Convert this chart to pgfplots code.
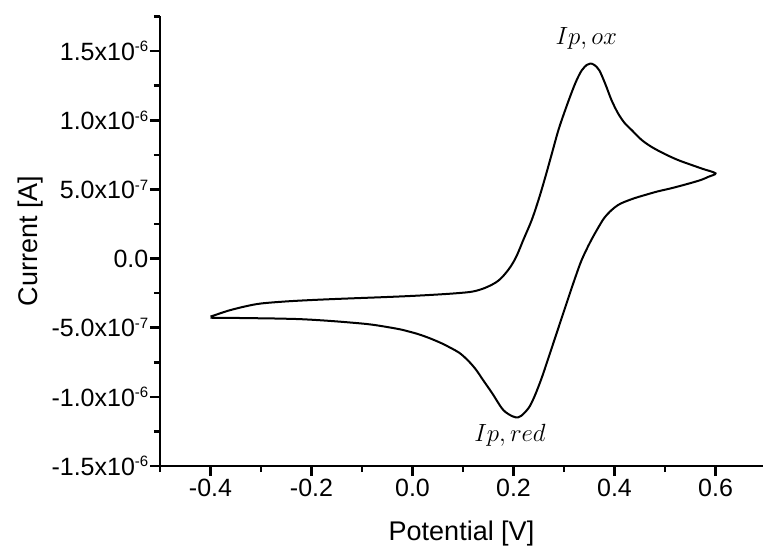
\documentclass[border=0pt]{standalone}
\usepackage{pgfplots}
\pgfplotsset{compat=1.18}
\usepackage{fontspec}
\setmainfont{Liberation Sans}

% tick label with a raised exponent, e.g. 1.5x10^-6
\newcommand{\sci}[2]{#1x10\raisebox{8.5pt}{\fontsize{15}{15}\selectfont #2}}

\begin{document}
\begin{tikzpicture}
\begin{axis}[
  scale only axis,
  width=603pt, height=450.3pt,
  xmin=-0.5, xmax=0.694,
  ymin=-1.5e-6, ymax=1.756e-6,
  scaled x ticks=false, scaled y ticks=false,
  axis x line=bottom, axis y line=left,
  axis line style={-, line width=2.8pt},
  tick align=outside,
  major tick length=10pt, minor tick length=6pt,
  every tick/.style={black, line width=2.5pt},
  xtick={-0.4,-0.2,0.0,0.2,0.4,0.6},
  xticklabels={-0.4,-0.2,0.0,0.2,0.4,0.6},
  minor xtick={-0.5,-0.3,-0.1,0.1,0.3,0.5},
  ytick={-1.5e-6,-1.0e-6,-5e-7,0,5e-7,1.0e-6,1.5e-6},
  yticklabels={\sci{-1.5}{-6},\sci{-1.0}{-6},\sci{-5.0}{-7},0.0,\sci{5.0}{-7},\sci{1.0}{-6},\sci{1.5}{-6}},
  minor ytick={-1.25e-6,-0.75e-6,-0.25e-6,0.25e-6,0.75e-6,1.25e-6,1.75e-6},
  ticklabel style={font=\fontsize{25}{30}\selectfont},
  yticklabel style={inner sep=1.5pt},
  xticklabel style={inner sep=3pt},
  label style={font=\fontsize{27}{32}\selectfont},
  xlabel={Potential [V]},
  ylabel={Current [A]},
  xlabel style={yshift=-18pt},
  ylabel style={yshift=3pt},
  clip=false,
]
% cyclic voltammogram: anodic sweep -0.4 -> 0.6 V, then cathodic sweep back
\addplot[black, line width=2pt, smooth, tension=0.55] coordinates {
  (-0.400,-0.420e-6) (-0.380,-0.395e-6) (-0.360,-0.372e-6) (-0.330,-0.345e-6)
  (-0.300,-0.325e-6) (-0.250,-0.310e-6) (-0.200,-0.300e-6) (-0.150,-0.292e-6)
  (-0.100,-0.285e-6) (-0.050,-0.278e-6) (0.000,-0.270e-6) (0.050,-0.260e-6)
  (0.090,-0.250e-6) (0.120,-0.238e-6) (0.145,-0.210e-6) (0.170,-0.160e-6)
  (0.190,-0.080e-6) (0.205,0.010e-6) (0.220,0.140e-6) (0.236,0.278e-6)
  (0.250,0.430e-6) (0.263,0.590e-6) (0.276,0.760e-6) (0.289,0.930e-6)
  (0.302,1.070e-6) (0.315,1.200e-6) (0.325,1.290e-6) (0.335,1.360e-6)
  (0.345,1.400e-6) (0.352,1.410e-6) (0.360,1.400e-6) (0.370,1.360e-6)
  (0.382,1.260e-6) (0.394,1.146e-6) (0.407,1.050e-6) (0.420,0.980e-6)
  (0.434,0.929e-6) (0.453,0.860e-6) (0.473,0.808e-6) (0.500,0.755e-6)
  (0.526,0.712e-6) (0.550,0.680e-6) (0.575,0.648e-6) (0.600,0.616e-6)
  (0.585,0.590e-6) (0.571,0.568e-6) (0.540,0.535e-6) (0.512,0.508e-6)
  (0.485,0.485e-6) (0.460,0.459e-6) (0.440,0.437e-6) (0.420,0.410e-6)
  (0.407,0.387e-6) (0.394,0.350e-6) (0.380,0.295e-6) (0.368,0.225e-6)
  (0.352,0.120e-6) (0.335,-0.010e-6) (0.322,-0.140e-6) (0.309,-0.280e-6)
  (0.299,-0.390e-6) (0.289,-0.500e-6) (0.279,-0.610e-6) (0.269,-0.720e-6)
  (0.259,-0.830e-6) (0.250,-0.920e-6) (0.240,-1.010e-6) (0.230,-1.080e-6)
  (0.215,-1.138e-6) (0.204,-1.148e-6) (0.190,-1.125e-6) (0.177,-1.083e-6)
  (0.158,-0.975e-6) (0.140,-0.880e-6) (0.125,-0.800e-6) (0.108,-0.730e-6)
  (0.092,-0.680e-6) (0.075,-0.645e-6) (0.059,-0.615e-6) (0.040,-0.585e-6)
  (0.026,-0.565e-6) (0.010,-0.545e-6) (-0.010,-0.525e-6) (-0.030,-0.508e-6)
  (-0.080,-0.478e-6) (-0.125,-0.462e-6) (-0.175,-0.448e-6) (-0.224,-0.438e-6)
  (-0.280,-0.433e-6) (-0.322,-0.431e-6) (-0.360,-0.429e-6) (-0.400,-0.428e-6)
};
\node[font=\fontsize{28}{32}\selectfont] at (axis cs:0.344,1.594e-6) {$Ip,ox$};
\node[font=\fontsize{28}{32}\selectfont] at (axis cs:0.193,-1.276e-6) {$Ip,red$};
\end{axis}
% page frame around the axis area and its labels
\pgfresetboundingbox
\path[use as bounding box] (-160pt,-85pt) rectangle (603pt,466pt);
\end{tikzpicture}
\end{document}
